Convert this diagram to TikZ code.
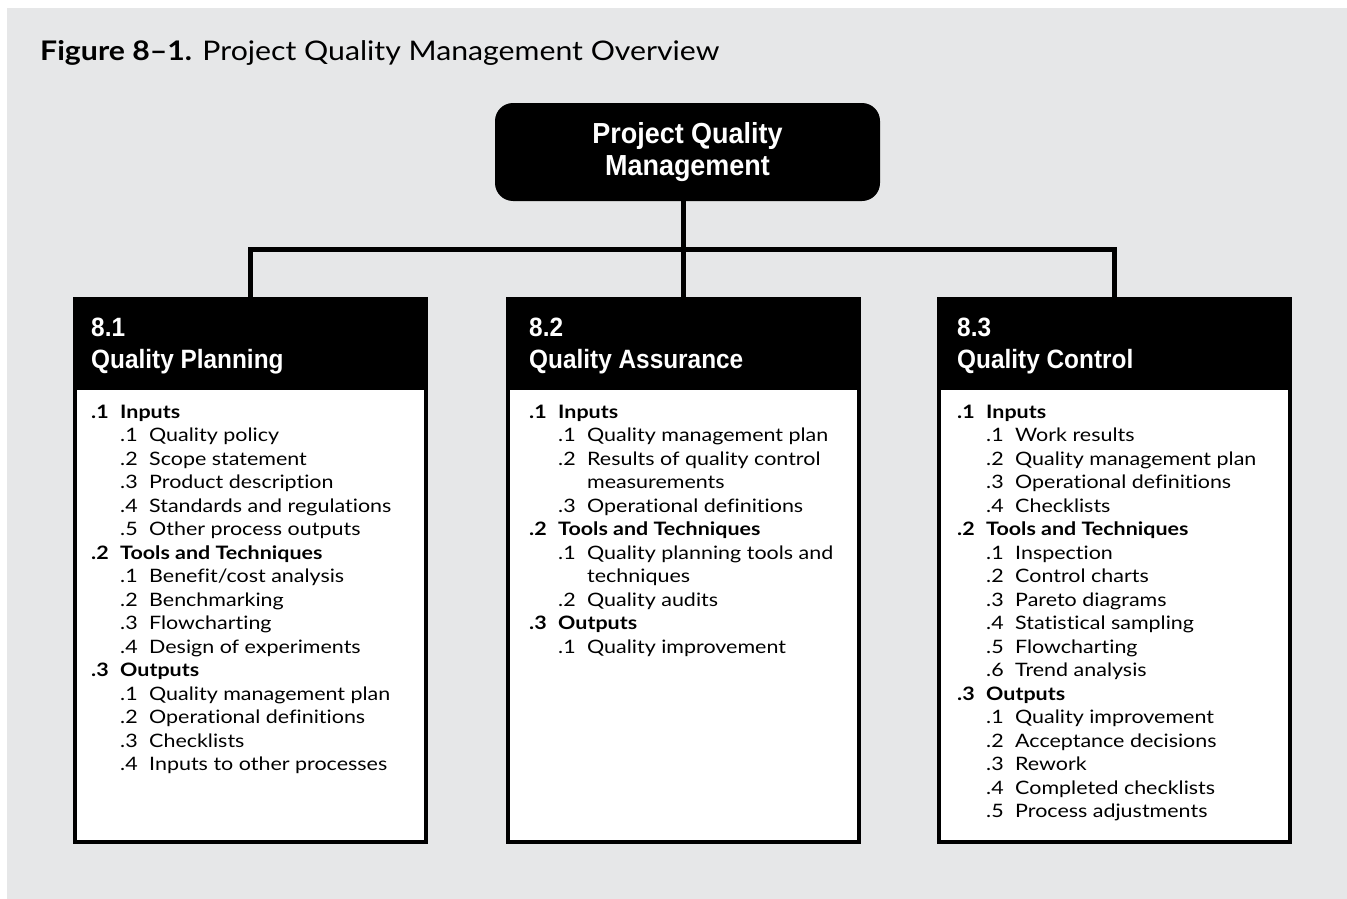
\documentclass[tikz,border=0pt]{standalone}
\usepackage{fontspec}
\setmainfont{Lato}
\newfontfamily\bodyfont[FakeStretch=1.16, Ligatures=NoCommon]{Lato}
\newfontfamily\titlefont[FakeStretch=1.12, Ligatures=NoCommon]{Lato}
\newfontfamily\condfont[FakeStretch=0.92]{Liberation Sans}
\newfontfamily\topfont[FakeStretch=0.93]{Liberation Sans}
\definecolor{bggray}{RGB}{230,231,232}
\tikzset{
  conn/.style={draw=black, line width=5pt, line join=miter},
  topbox/.style={fill=black, text=white, rounded corners=18pt, minimum width=385pt,
    minimum height=98pt, inner sep=0pt, align=center,
    font=\topfont\bfseries\fontsize{29}{32}\selectfont},
  qbox/.style={draw=black, line width=4pt, fill=white, minimum width=351pt,
    minimum height=543pt, inner sep=0pt, outer sep=0pt},
  qhead/.style={fill=black, minimum width=355pt, minimum height=93pt, inner sep=0pt, outer sep=0pt},
  headtxt/.style={anchor=base west, inner sep=0pt, text=white,
    font=\condfont\bfseries\fontsize{26.5}{32}\selectfont},
  qitem/.style={anchor=base west, inner sep=0pt, text=black},
  qitem0/.style={qitem, font=\bodyfont\bfseries\fontsize{18.5}{21}\selectfont},
  qitem1/.style={qitem, font=\bodyfont\fontsize{18.5}{21}\selectfont},
  qitem2/.style={qitem, font=\bodyfont\fontsize{18.5}{21}\selectfont},
}
\newcommand\qitems[3]{%
  \foreach \lv/\n/\t [count=\i from 0] in {#3} {
    \pgfmathsetmacro\xx{#2+29*min(\lv,1)}
    \node[qitem\lv, name=#1-\i] at (\xx, 418.5+23.47*\i) {\makebox[29pt][l]{\n}\t};
  }}
\begin{document}
\begin{tikzpicture}[x=1pt, y=-1pt]
\useasboundingbox (0,0) rectangle (1347,899);
\fill[white] (0,0) rectangle (1347,899);
\fill[bggray] (7,8) rectangle (1347,899);

\node[anchor=base west, inner sep=0pt, font=\titlefont\fontsize{27}{30}\selectfont] (title) at (40,61)
  {\textbf{Figure 8–1.} Project Quality Management Overview};

\node[topbox] (top) at (687.5,152) {Project Quality\\Management};

\node[qbox] (b1) at (250.5,570.5) {};
\node[qbox] (b2) at (683.5,570.5) {};
\node[qbox] (b3) at (1114,570.5) {};

\node[qhead, anchor=north] (h1) at ([yshift=2pt]b1.north) {};
\node[qhead, anchor=north] (h2) at ([yshift=2pt]b2.north) {};
\node[qhead, anchor=north] (h3) at ([yshift=2pt]b3.north) {};

\coordinate (hb) at (0,249);
\draw[conn] (top.south -| b2.north) -- (b2.north);
\draw[conn] (b1.north) -- (b1.north |- hb) -- (b3.north |- hb) -- (b3.north);

\node[headtxt] (n1) at (91,336) {8.1};
\node[headtxt] (t1) at (91,368) {Quality Planning};
\node[headtxt] (n2) at (529,336) {8.2};
\node[headtxt] (t2) at (529,368) {Quality Assurance};
\node[headtxt] (n3) at (957,336) {8.3};
\node[headtxt] (t3) at (957,368) {Quality Control};

\qitems{pa}{91}{0/.1/Inputs, 1/.1/Quality policy, 1/.2/Scope statement,
  1/.3/Product description, 1/.4/Standards and regulations, 1/.5/Other process outputs,
  0/.2/Tools and Techniques, 1/.1/{Benefit/cost analysis}, 1/.2/Benchmarking,
  1/.3/Flowcharting, 1/.4/Design of experiments, 0/.3/Outputs,
  1/.1/Quality management plan, 1/.2/Operational definitions, 1/.3/Checklists,
  1/.4/Inputs to other processes}

\qitems{pb}{529}{0/.1/Inputs, 1/.1/Quality management plan, 1/.2/Results of quality control,
  2/{}/measurements, 1/.3/Operational definitions, 0/.2/Tools and Techniques,
  1/.1/Quality planning tools and, 2/{}/techniques, 1/.2/Quality audits,
  0/.3/Outputs, 1/.1/Quality improvement}

\qitems{pc}{957}{0/.1/Inputs, 1/.1/Work results, 1/.2/Quality management plan,
  1/.3/Operational definitions, 1/.4/Checklists, 0/.2/Tools and Techniques,
  1/.1/Inspection, 1/.2/Control charts, 1/.3/Pareto diagrams, 1/.4/Statistical sampling,
  1/.5/Flowcharting, 1/.6/Trend analysis, 0/.3/Outputs, 1/.1/Quality improvement,
  1/.2/Acceptance decisions, 1/.3/Rework, 1/.4/Completed checklists,
  1/.5/Process adjustments}
\end{tikzpicture}
\end{document}
